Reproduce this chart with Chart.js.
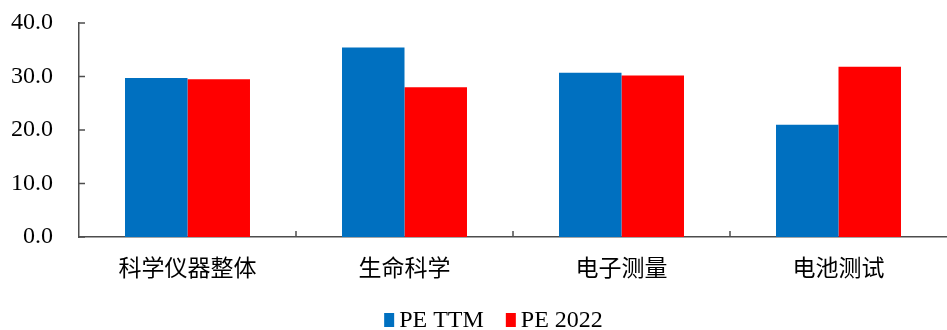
<!DOCTYPE html>
<html>
<head>
<meta charset="utf-8">
<script src="https://cdn.jsdelivr.net/npm/chart.js@4.4.1/dist/chart.umd.min.js"></script>
<style>
    html, body { margin: 0; padding: 0; background: #fff; }
    #wrap { width: 947px; height: 330px; }
</style>
</head>
<body>
<div id="wrap"><canvas id="peChart" width="947" height="330"></canvas></div>
<script>
const categories = ['科学仪器整体', '生命科学', '电子测量', '电池测试'];
const peTTM = [29.7, 35.4, 30.7, 21.0];
const pe2022 = [29.5, 28.0, 30.2, 31.8];
const yTicks = [0, 10, 20, 30, 40];

const axisColor = '#4d4d4d';
const serif = '"Liberation Serif", "Times New Roman", serif';
const cjk = '"Noto Sans CJK SC", sans-serif';

// short tick marks drawn inward from the axes
const innerTicks = {
    id: 'innerTicks',
    afterDraw(chart) {
        const ctx = chart.ctx;
        const x = chart.scales.x;
        const y = chart.scales.y;
        ctx.save();
        ctx.strokeStyle = axisColor;
        ctx.lineWidth = 1.5;
        ctx.beginPath();
        y.ticks.forEach((t, i) => {
            const py = y.getPixelForTick(i);
            ctx.moveTo(x.left, py);
            ctx.lineTo(x.left + 6, py);
        });
        for (let i = 1; i < categories.length; i++) {
            const px = (x.getPixelForValue(i - 1) + x.getPixelForValue(i)) / 2;
            ctx.moveTo(px, y.bottom);
            ctx.lineTo(px, y.bottom - 6);
        }
        ctx.stroke();
        ctx.restore();
    }
};

// compact legend under the plot: square swatch, small gap, label
const bottomLegend = {
    id: 'bottomLegend',
    afterDraw(chart) {
        const ctx = chart.ctx;
        const sets = chart.data.datasets;
        ctx.save();
        ctx.font = '24px ' + serif;
        ctx.textBaseline = 'middle';
        const boxW = 10, boxH = 14, gap = 5, spacing = 22;
        const widths = sets.map(d => boxW + gap + ctx.measureText(d.label).width);
        const total = widths.reduce((a, b) => a + b, 0) + spacing * (sets.length - 1);
        let cx = (chart.width - total) / 2 + 20;
        const cy = 320;
        sets.forEach((d, i) => {
            ctx.fillStyle = d.backgroundColor;
            ctx.fillRect(cx, cy - boxH / 2, boxW, boxH);
            ctx.fillStyle = '#000';
            ctx.fillText(d.label, cx + boxW + gap, cy + 1);
            cx += widths[i] + spacing;
        });
        ctx.restore();
    }
};

const ctx = document.getElementById('peChart').getContext('2d');
new Chart(ctx, {
    type: 'bar',
    data: {
        labels: categories,
        datasets: [
            { label: 'PE TTM', data: peTTM, backgroundColor: '#0070C0' },
            { label: 'PE 2022', data: pe2022, backgroundColor: '#FF0000' }
        ]
    },
    options: {
        responsive: false,
        animation: false,
        layout: { padding: { top: 23, right: 0, left: 0, bottom: 0 } },
        datasets: {
            bar: { categoryPercentage: 0.576, barPercentage: 1.0 }
        },
        scales: {
            x: {
                afterFit(scale) {
                    scale.height = 93;
                    scale.paddingLeft = 0;
                    scale.paddingRight = 0;
                },
                grid: { display: false },
                border: { color: axisColor, width: 1.5 },
                ticks: {
                    color: '#000',
                    font: { family: cjk, size: 23 },
                    padding: 8,
                    maxRotation: 0
                }
            },
            y: {
                min: 0,
                max: 40,
                afterBuildTicks(scale) {
                    scale.ticks = yTicks.map(v => ({ value: v }));
                },
                afterFit(scale) {
                    scale.width = 79;
                    scale.paddingTop = 0;
                    scale.paddingBottom = 0;
                },
                grid: { display: false },
                border: { color: axisColor, width: 1.5 },
                ticks: {
                    color: '#000',
                    font: { family: serif, size: 24 },
                    padding: 18,
                    callback: v => v.toFixed(1)
                }
            }
        },
        plugins: {
            legend: { display: false },
            tooltip: { enabled: false }
        }
    },
    plugins: [innerTicks, bottomLegend]
});
</script>
</body>
</html>
